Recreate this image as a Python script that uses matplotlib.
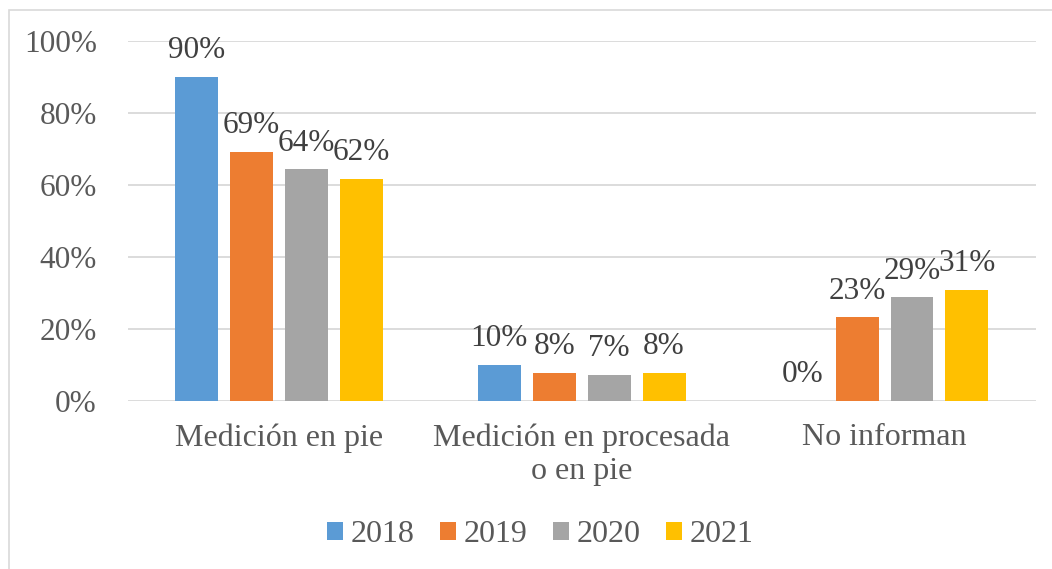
import matplotlib
matplotlib.use("Agg")
import matplotlib.pyplot as plt
from matplotlib.patches import Rectangle
import numpy as np

categories = ["Medición en pie", "Medición en procesada\no en pie", "No informan"]
years = ["2018", "2019", "2020", "2021"]
v2018 = [0.90, 0.10, 0.0]
v2019 = [0.692, 0.077, 0.231]
v2020 = [0.643, 0.071, 0.287]
v2021 = [0.617, 0.077, 0.308]
series = [v2018, v2019, v2020, v2021]
colors = ["#5B9BD5", "#ED7D31", "#A5A5A5", "#FFC000"]
yticks = [0, 0.2, 0.4, 0.6, 0.8, 1.0]
ytick_labels = ["0%", "20%", "40%", "60%", "80%", "100%"]

plt.rcParams['font.family'] = ['Liberation Serif', 'DejaVu Serif']

W, H = 1052, 569
fig = plt.figure(figsize=(W / 100, H / 100), dpi=100)

# chart frame (top and left visible)
fig.patches.append(Rectangle((9 / W, -0.1), 1.2, 1 - 10 / H + 0.1, transform=fig.transFigure,
                             fill=False, edgecolor="#D9D9D9", linewidth=1.2))

ax_left, ax_right = 127.5 / W, 1036 / W
ax_top, ax_bottom = 1 - 41 / H, 1 - 400.5 / H
ax = fig.add_axes([ax_left, ax_bottom, ax_right - ax_left, ax_top - ax_bottom])

x = np.arange(len(categories))
pitch = 55 / 303.5
width = 43 / 303.5
fs = 22.5
handles = []
for i, (vals, col, yr) in enumerate(zip(series, colors, years)):
    pos = x + (i - 1.5) * pitch
    b = ax.bar(pos, vals, width=width, color=col, label=yr, zorder=3)
    handles.append(b)
    for px, v in zip(pos, vals):
        ax.annotate(f"{round(v * 100)}%", (px, v), xytext=(0, 13.5), textcoords="offset points",
                    ha="center", va="baseline", fontsize=fs, color="#404040", zorder=4)

ax.set_xlim(-0.5, len(categories) - 0.5)
ax.set_ylim(0, 1.0)
ax.set_yticks(yticks)
ax.set_yticklabels(ytick_labels)
ax.set_xticks(x)
ax.set_xticklabels(categories)
ax.tick_params(axis="y", length=0, pad=22, labelsize=22.5, labelcolor="#595959")
ax.tick_params(axis="x", length=0, pad=16.5, labelsize=23, labelcolor="#595959")
ax.grid(axis="y", color="#D9D9D9", linewidth=1.3, zorder=0)
ax.set_axisbelow(True)
for s in ax.spines.values():
    s.set_visible(False)

leg = fig.legend(handles=handles, labels=years, loc="center", bbox_to_anchor=(540 / W, 1 - 535 / H),
                 ncol=4, frameon=False, fontsize=23, handlelength=0.5, handleheight=0.5,
                 handletextpad=0.24, columnspacing=0.8, borderaxespad=0)
for t in leg.get_texts():
    t.set_color("#595959")

fig.savefig("out.png", dpi=100)
